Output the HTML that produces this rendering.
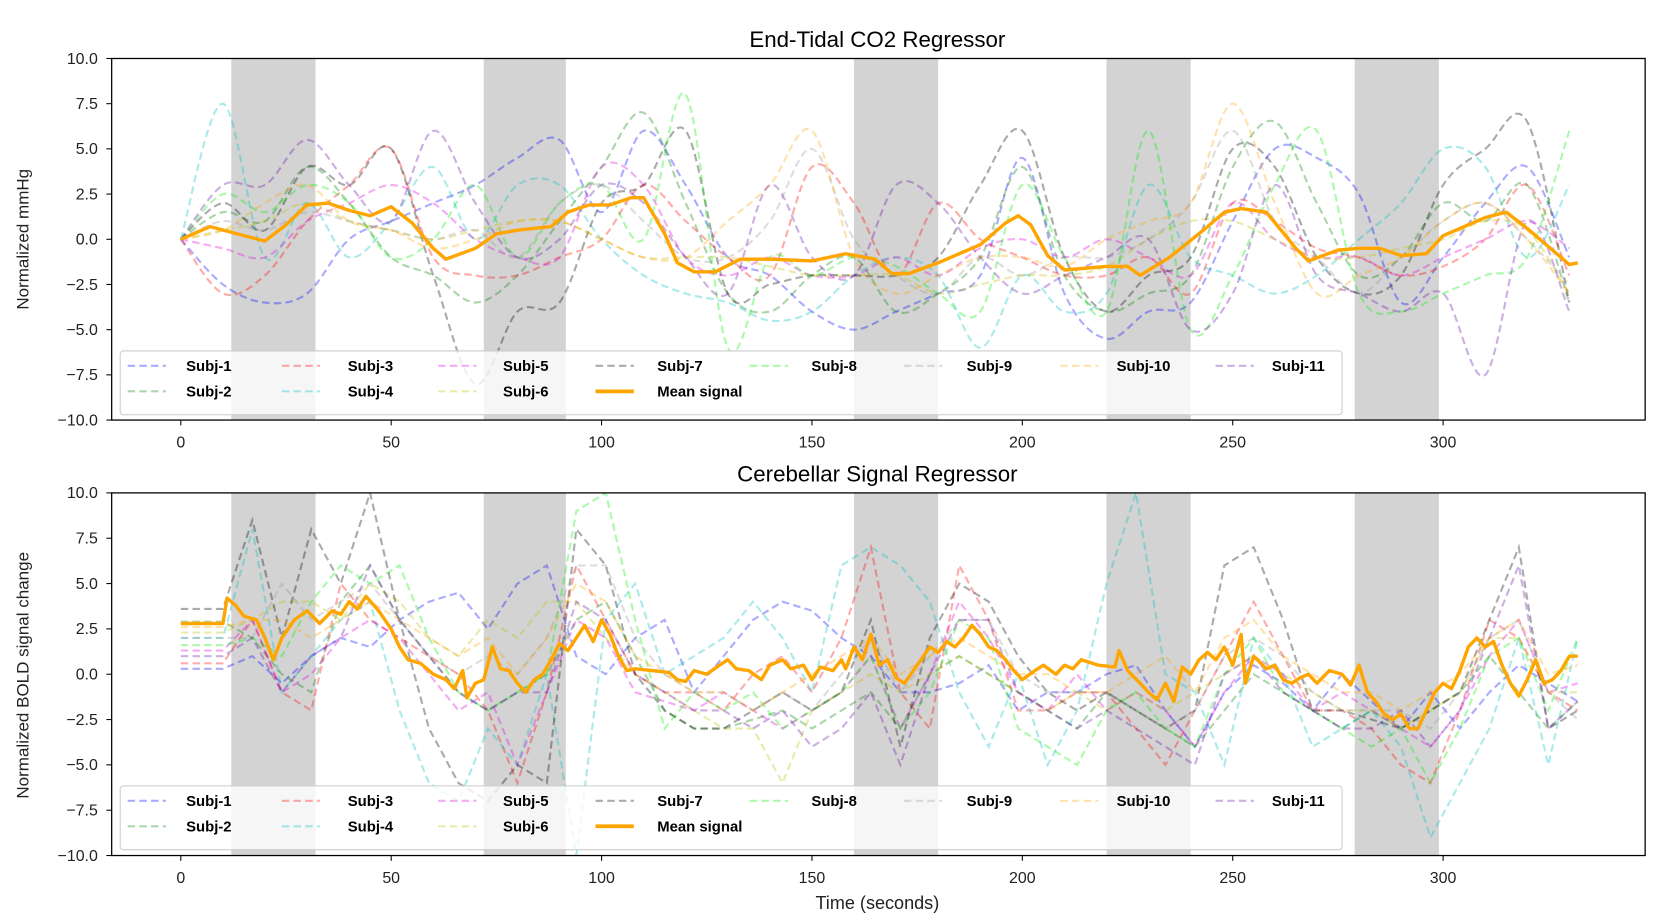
<!DOCTYPE html>
<html><head><meta charset="utf-8">
<style>
html,body{margin:0;padding:0;background:#fff;}
svg{display:block;font-family:"Liberation Sans",sans-serif;}
</style></head>
<body>
<svg id="fig" width="1659" height="922" viewBox="0 0 1560 867">
<defs>
<clipPath id="c1"><rect x="105" y="55" width="1442" height="340"/></clipPath>
<clipPath id="c2"><rect x="105" y="463.5" width="1442" height="341"/></clipPath>
</defs>
<text x="825" y="44" text-anchor="middle" font-size="21">End-Tidal CO2 Regressor</text>
<text x="825" y="453" text-anchor="middle" font-size="21">Cerebellar Signal Regressor</text>
<text transform="translate(27,225) rotate(-90)" text-anchor="middle" font-size="16" fill="#222">Normalized mmHg</text>
<text transform="translate(27,635) rotate(-90)" text-anchor="middle" font-size="16" fill="#222">Normalized BOLD signal change</text>
<text x="825" y="855" text-anchor="middle" font-size="17" fill="#222">Time (seconds)</text>
<g id="p1"></g>
<g id="p2"></g>
</svg>
<script>
const subjNames=['Subj-1','Subj-2','Subj-3','Subj-4','Subj-5','Subj-6','Subj-7','Subj-8','Subj-9','Subj-10','Subj-11'];
const subjColors=['#0000ff','#008000','#ff0000','#00bfbf','#dd00dd','#bfbf00','#000000','#00ee00','#999999','#ffa500','#6a0dad'];
const blocks=[[12,32],[72,91.5],[160,180],[220,240],[279,299]];
const xTicks=[0,50,100,150,200,250,300];
const yTicks=[10,7.5,5,2.5,0,-2.5,-5,-7.5,-10];
const yTickLabels=['10.0','7.5','5.0','2.5','0.0','−2.5','−5.0','−7.5','−10.0'];

const topTimes=[0,10,20,30,40,50,60,70,80,90,100,110,120,130,140,150,160,170,180,190,200,210,220,230,240,250,260,270,280,290,300,310,320,330];
const top1=[0,-2.5,-3.5,-3,0,1,2,3,4.5,5.5,1.5,6,3,-1,-2,-4,-5,-4,-3,-2,4.5,-3,-5.5,-4,-3.5,1,5,4.5,2.5,-3.5,-1,2,4,-1];
const top2=[0,1.5,1,4,2,-1,-2,-3.5,-2,1,4,7,2,-3,-4,-2,-1,-4,-3,-1,4,-2,-4,-3,-2,4,6.5,2,-2,-1,2,1,3,-3.5];
const top3=[0,-3,-2,1,3,5,-1,-2,-2,-1,0,3,1,-1,-2,4,2,-2,2,0,-1,-2,-2,-1,-3,2,1,-0.5,-1,-2,-1.5,0,3,-2];
const top4=[0,7.5,-1,2,-1,1,4,0,3,3,0,-2,-3,-3.5,-4.5,-4,-2,-1,-2,-6,-2,-4,-3,3,-1,-2,-3,-2,0,2,5,4,-1,3];
const top5=[0,-0.5,-1,1,2,3,2,0,-1,-1,4,3,-1,-2,-1,-2,-2,-1,-2,-0.5,0,-1,0,-1,-2,2,0,-1,-1,-2,-1,0,1,-0.5];
const top6=[0,0.5,1,2,1,0.5,0,0.5,1,1,0,-1,-1,-1,-1.5,-2,-2,-2,-3,-2.5,-2,-2,-1.5,0,1,1,0,-1,-1,-0.5,0,1,0.5,-3];
const top7=[0,2,0.5,4,3,5,-2,-8,-4,-3.5,2,3,6,-3,-2.5,-2,-2,-2,-1,3,6,-1,-4,-2,-1,5,4,-1,-3,-2,3,5,6.5,-3.5];
const top8=[0,2.5,1.5,3,2,-1,0,3,-1,2,3,0,8,-6,-1,-2,-1,-1.5,-3,-4,3,-1,-4,6,-5,-2,3,6,-3,-4,-3,-2,-1,6];
const top9=[0,1,0.5,1.5,1,0.5,0,0.5,-1,2,3,1,-1,-1,1,5,0,-2,-3,-1,-2,-1,-1,0,2,6,1,-1,-3,-1,1,2,0,-2.5];
const top10=[0,0.5,2,3,1,0.5,-0.5,0,1,1,0,-1,-1,1,3,6,-1,-3,-2,-1,-1,-1.5,0,1,2,7.5,2,-3,-2,-1,1,2,0,-3];
const top11=[0,3,3,5.5,3,1,6,2,-1,0,3,2,-1,-3,3,-1,-2,3,2,-1,-3,-2,-1,0,-5,-3,3,-2,-3,-4,-3,-7.5,1,-4];
const topMeanTimes=[0,7,15,20,25,30,35,40,45,50,55,60,63,70,75,80,88,92,97,102,107,110,115,118,122,127,133,140,150,158,165,169,173,180,186,190,196,199,202,206,210,220,225,228,235,243,248,252,258,265,268,275,280,285,290,296,300,310,315,320,325,330,332];
const topMean=[0,0.7,0.2,-0.1,0.8,1.9,2.0,1.6,1.3,1.8,0.9,-0.5,-1.1,-0.5,0.3,0.5,0.7,1.5,1.9,1.9,2.3,2.3,0.3,-1.3,-1.8,-1.8,-1.1,-1.1,-1.2,-0.8,-1.1,-1.9,-1.9,-1.3,-0.7,-0.3,0.9,1.3,0.8,-0.9,-1.7,-1.5,-1.5,-2.0,-1.0,0.5,1.5,1.7,1.5,-0.5,-1.2,-0.6,-0.5,-0.5,-0.9,-0.8,0.2,1.2,1.5,0.6,-0.4,-1.4,-1.3];

const botTimes=[0,10,17,24,31,38,45,52,59,66,73,80,87,94,101,108,115,122,129,136,143,150,157,164,171,178,185,192,199,206,213,220,227,234,241,248,255,262,269,276,283,290,297,304,311,318,325,332];
const bot1=[0.3,0.3,1,-0.5,1,2,1.5,3,4,4.5,2.5,5,6,1,0,2,3,-1,1,3,4,3.5,2,1,-1,-1,-0.5,0.5,-2,-1,-1,0,0.5,-2,-4,-1,0.5,-0.5,-2,0,-1.5,-3,-1,-3,-1,0.5,-0.5,-1.5];
const bot2=[2.9,2.9,2,0,-1,4,6,3,1,-1,-2,-1,0,3,4,1,-2,-3,-3,-2.5,-2,-3,-2,-1,-3,0,1,0,-1,-2,-3,-1,-2,-3,-4,-2,0,-1,-2,-3,-2,-3,-2,-1,1,-1,-3,-1.5];
const bot3=[0.6,0.6,3,-1,-2,5,3,2,1,0,-2,-6,-1,6,3,0,-1,-1,-2,0,1,-1,2,7,-1,-3,6,3,-2,-2,-1,-1,-3,-5,-2,1,4,1,-2,-2,-3,-5,-6,-2,3,2,-1,-2];
const bot4=[2,2,8,-1,1,3,4,-2,-6,-7,-3,-5,0,-10,3,5,0,1,2,4,2,-1,6,7,6,4,-1,-4,0,-5,-2,5,10,0,-1,-5,2,0,-4,-3,-2,-4,-9,-6,-3,2,-5,2];
const bot5=[1.3,1.3,3,-1,0,2,3,2,0,-2,-1,-5,-1,3,2,-1,-1.5,-2,-1,-2,-3,-2,-1,1,-3,0,4,2,-1,-2,0,-2,-1,-2,-4,-1,1,0,-2,-1,-2,-3,-4,-2,1,3,-1,-0.5];
const bot6=[2.3,2.3,3,4,4,3,5,4,2,1,3,2,4,4,2,0,-1,-2,-3,-3,-6,-2,-1,0,-1,0,1,0,-1,-2,-1,-2,-1,-2,-1,0,1,0,-1,-2,-2,-3,-2,-1,2,2,-1,-1];
const bot7=[3.6,3.6,8.5,2,8,5,10,3,-3,-6,-7,-5,-6,8,6,0,-2,-3,-3,-2,-1,-2,-1,3,-4,2,5,4,1,-1,-2,-1,-2,-3,-2,6,7,3,-2,-2,-2.5,-3,-2,-1,3,7,-3,-2];
const bot8=[1.6,1.6,2,1,4,6,5,6,2,-1,-2,-1,0,9,10,3,-3,-1,-2,-1,-3,-2,-1,1,-3,-1,3,2,-3,-4,-5,-2,-1,-3,-4,0,2,-1,-2,-3,-4,-3,-6,-3,1,2,-2,2];
const bot9=[2,2,2,5,3,4,5,3,1,0,1,0,2,6,6,2,0,-1,-1,-2,-1,-2,0,2,-1,1,3,3,0,-1,-1,-1,-2,-3,-2,1,2,1,-1,-2,-2,-2,-3,-1,2,3,-1,-2.5];
const bot10=[2.6,2.6,3,3,2,3,4,3,2,1,2,0,2,5,4,1,0,-1,-1,-2,-1,0,1,2,0,1,2,1,0,0,-1,-1,0,1,-1,2,3,1,0,-1,-1,-2,-1,0,2,3,0,0.5];
const bot11=[1,1,2,-1,1,2,6,3,1,-1,-2,-1,-1,4,3,0,-1,-2,-2,-3,-2,-4,-3,-1,-5,0,3,3,-1,-2,-3,-2,-3,-4,-5,0,1,-1,-2,-3,-3,-2,-4,-2,2,6,-3,-1.5];
const botMeanTimes=[0,10,11,13,15,18,20,22,24,27,30,33,36,38,40,42,44,47,50,52,54,57,60,63,65,67,68,70,72,74,76,78,80,82,84,86,88,90,92,94,96,98,100,102,104,106,108,112,116,118,120,122,125,128,130,132,135,138,140,143,145,148,150,152,155,157,158,160,162,164,166,168,170,172,175,178,180,182,184,186,188,190,192,194,196,198,200,203,205,208,210,212,214,218,222,223,225,228,230,232,234,236,238,240,242,244,246,248,250,252,253,255,258,260,262,264,266,268,270,273,276,278,280,282,284,286,288,290,292,294,296,298,300,302,304,306,308,310,312,314,316,318,320,322,324,326,328,330,332];
const botMean=[2.8,2.8,4.2,3.8,3.2,3.0,2.0,0.8,2.0,3.0,3.5,2.8,3.5,3.3,4.0,3.6,4.3,3.5,2.5,1.5,0.8,0.6,0,-0.3,-0.8,0.2,-1.3,-0.5,-0.3,1.5,0.3,0.2,-0.5,-1.0,-0.3,0,0.8,1.7,1.3,2.0,2.7,1.8,3.0,2.2,1.0,0.2,0.3,0.2,0.1,-0.3,-0.4,0.2,0.0,0.5,0.8,0.3,0.2,-0.3,0.5,0.8,0.3,0.5,-0.3,0.4,0.2,0.8,0.3,1.5,0.8,2.2,0.5,0.8,-0.2,-0.5,0.5,1.5,1.2,1.8,1.5,2.0,2.7,2.2,1.5,1.3,0.8,0.2,-0.3,0.2,0.5,0,0.5,0.3,0.8,0.5,0.4,1.3,0.2,-0.5,-1.0,-1.4,-0.5,-1.5,0.4,0,0.8,1.2,0.8,1.5,0.5,2.2,-0.5,1.0,0.3,0.5,-0.3,-0.5,-0.2,0,-0.5,0.2,0,-0.6,0.5,-1.0,-1.5,-2.2,-2.5,-2.2,-3.0,-3.0,-2.0,-1.0,-0.5,-0.8,0.2,1.5,2.0,1.5,1.8,0.5,-0.5,-1.2,-0.3,0.8,-0.5,-0.3,0.2,1.0,1.0];

const NS='http://www.w3.org/2000/svg';
function mk(tag,attrs,parent){const e=document.createElementNS(NS,tag);for(const k in attrs)e.setAttribute(k,attrs[k]);parent.appendChild(e);return e;}
const X0=170,XPER=(1357-170)/300;
function xs(t){return X0+t*XPER;}

function smoothPath(pts){
  let d='M'+pts[0][0].toFixed(1)+','+pts[0][1].toFixed(1);
  for(let i=0;i<pts.length-1;i++){
    const p0=pts[Math.max(0,i-1)],p1=pts[i],p2=pts[i+1],p3=pts[Math.min(pts.length-1,i+2)];
    const c1x=p1[0]+(p2[0]-p0[0])/6,c1y=p1[1]+(p2[1]-p0[1])/6;
    const c2x=p2[0]-(p3[0]-p1[0])/6,c2y=p2[1]-(p3[1]-p1[1])/6;
    d+=' C'+c1x.toFixed(1)+','+c1y.toFixed(1)+' '+c2x.toFixed(1)+','+c2y.toFixed(1)+' '+p2[0].toFixed(1)+','+p2[1].toFixed(1);
  }
  return d;
}
function linePath(pts){return 'M'+pts.map(p=>p[0].toFixed(1)+','+p[1].toFixed(1)).join(' L');}

function drawPanel(g,top,bottom,clip,times,series,mT,mV,smooth,legendTop){
  const ys=v=>(top+bottom)/2-v*(bottom-top)/20;
  // shaded blocks
  blocks.forEach((b,i)=>{
    const r=mk('rect',{x:xs(b[0]),y:top,width:xs(b[1])-xs(b[0]),height:bottom-top,fill:'#d3d3d3'},g);
    
    
  });
  const lg=mk('g',{'clip-path':'url(#'+clip+')'},g);
  series.forEach((vals,i)=>{
    const n=Math.min(vals.length,times.length);
    const pts=[];for(let k=0;k<n;k++)pts.push([xs(times[k]),ys(vals[k])]);
    const p=mk('path',{d:smooth?smoothPath(pts):linePath(pts),fill:'none',stroke:subjColors[i],'stroke-opacity':0.33,'stroke-width':2,'stroke-dasharray':'7,4'},lg);
    
    
  });
  const mp=[];for(let k=0;k<Math.min(mT.length,mV.length);k++)mp.push([xs(mT[k]),ys(mV[k])]);
  const m=mk('path',{d:linePath(mp),fill:'none',stroke:'#ffa500','stroke-width':3.2,'stroke-linejoin':'round'},lg);
  
  
  // axes frame
  const fr=mk('rect',{x:105,y:top,width:1442,height:bottom-top,fill:'none',stroke:'#000','stroke-width':1.2},g);
  
  
  yTicks.forEach((v,i)=>{
    mk('line',{x1:100,x2:105,y1:ys(v),y2:ys(v),stroke:'#000'},g);
    const t=mk('text',{x:92,y:ys(v)+5,'text-anchor':'end','font-size':15,fill:'#222'},g);
    t.textContent=yTickLabels[i];
    
    
  });
  xTicks.forEach(v=>{
    mk('line',{x1:xs(v),x2:xs(v),y1:bottom,y2:bottom+5,stroke:'#000'},g);
    const t=mk('text',{x:xs(v),y:bottom+26,'text-anchor':'middle','font-size':15,fill:'#222'},g);
    t.textContent=String(v);
    
    
  });
  // legend
  const L=mk('g',{},g);
  
  
  mk('rect',{x:113,y:legendTop,width:1149,height:60,rx:3,fill:'#fff','fill-opacity':0.8,stroke:'#ccc'},L);
  const colLine=[120,265,412,560,705,850,997,1143],colText=[175,327,473,618,763,909,1050,1196];
  const entries=[];
  for(let i=0;i<11;i++)entries.push({name:subjNames[i],c:subjColors[i],mean:false});
  entries.push({name:'Mean signal',c:'#ffa500',mean:true});
  // column-major fill with 2 rows (matplotlib ncol=8)
  const order=[[0,1],[2,3],[4,5],[6,11],[7],[8],[9],[10]];
  order.forEach((col,ci)=>{
    col.forEach((ei,ri)=>{
      const e=entries[ei];const y=legendTop+14+ri*24;
      const it=mk('g',{},L);
      
      
      if(e.mean) mk('line',{x1:colLine[ci],x2:colLine[ci]+36,y1:y,y2:y,stroke:e.c,'stroke-width':3.5},it);
      else mk('line',{x1:colLine[ci],x2:colLine[ci]+36,y1:y,y2:y,stroke:e.c,'stroke-opacity':0.33,'stroke-width':2,'stroke-dasharray':'7,4'},it);
      const t=mk('text',{x:colText[ci],y:y+5,'font-size':14,'font-weight':'bold',fill:'#000'},it);
      t.textContent=e.name;
    });
  });
}
drawPanel(document.getElementById('p1'),55,395,'c1',topTimes,[top1,top2,top3,top4,top5,top6,top7,top8,top9,top10,top11],topMeanTimes,topMean,true,330);
drawPanel(document.getElementById('p2'),463.5,804.5,'c2',botTimes,[bot1,bot2,bot3,bot4,bot5,bot6,bot7,bot8,bot9,bot10,bot11],botMeanTimes,botMean,false,739);
</script>
</body></html>
